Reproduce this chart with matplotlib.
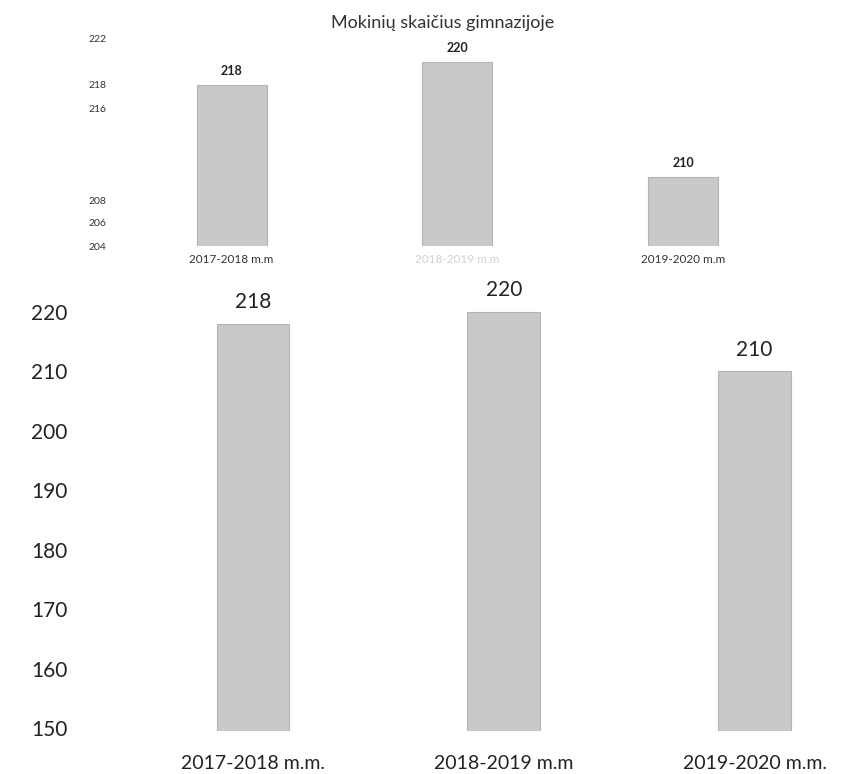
import matplotlib.pyplot as plt

# Data
years_top = ["2017-2018 m.m", "2018-2019 m.m", "2019-2020 m.m"]
years_bottom = ["2017-2018 m.m.", "2018-2019 m.m", "2019-2020 m.m."]
students = [218, 220, 210]
top_ticks = [204, 206, 208, 216, 218, 222]
bottom_ticks = [150, 160, 170, 180, 190, 200, 210, 220]

plt.rcParams['font.family'] = ['Lato', 'DejaVu Sans']

BAR_COLOR = '#c9c9c9'
EDGE_COLOR = '#b3b3b3'

fig = plt.figure(figsize=(8.58, 7.74), dpi=100)
W, H = 858.0, 774.0

# small chart at the top of the page
ax1 = fig.add_axes([112 / W, 1 - 246 / H, 648 / W, 207 / H])
x = list(range(len(students)))
ax1.bar(x, [s - 204 for s in students], bottom=204, width=0.31,
        color=BAR_COLOR, edgecolor=EDGE_COLOR, linewidth=0.8)
ax1.set_ylim(204, 222)
ax1.set_xlim(-0.53, 2.34)
ax1.set_yticks(top_ticks)
ax1.set_yticklabels([str(t) for t in top_ticks], fontsize=7.5, color='#333333')
ax1.set_xticks(x)
ax1.set_xticklabels(years_top, fontsize=8.5)
for lab, c in zip(ax1.get_xticklabels(), ['#333333', '#d2d2d2', '#333333']):
    lab.set_color(c)
ax1.tick_params(length=0, pad=4)
ax1.tick_params(axis='x', pad=6)
for s in ax1.spines.values():
    s.set_visible(False)
for xi, v in zip(x, students):
    ax1.text(xi, v + 0.7, str(v), ha='center', va='bottom', fontsize=9,
             fontweight='bold', color='#222222')
ax1.set_title("Mokinių skaičius gimnazijoje", fontsize=13, color='#333333', pad=8, x=0.51)

# large chart below
ax2 = fig.add_axes([90 / W, 1 - 731 / H, 760 / W, 441 / H])
ax2.bar(x, [s - 149.5 for s in students], bottom=149.5, width=0.29,
        color=BAR_COLOR, edgecolor=EDGE_COLOR, linewidth=0.8)
ax2.set_ylim(149.5, 223.7)
ax2.set_xlim(-0.65, 2.38)
ax2.set_yticks(bottom_ticks)
ax2.set_yticklabels([str(t) for t in bottom_ticks], fontsize=15, color='#222222')
ax2.set_xticks(x)
ax2.set_xticklabels(years_bottom, fontsize=14, color='#222222')
ax2.tick_params(length=0, pad=16)
ax2.tick_params(axis='x', pad=17)
for s in ax2.spines.values():
    s.set_visible(False)
for xi, v in zip(x, students):
    ax2.text(xi, v + 2.0, str(v), ha='center', va='bottom', fontsize=15,
             color='#222222')

fig.savefig("out.png", dpi=100)
